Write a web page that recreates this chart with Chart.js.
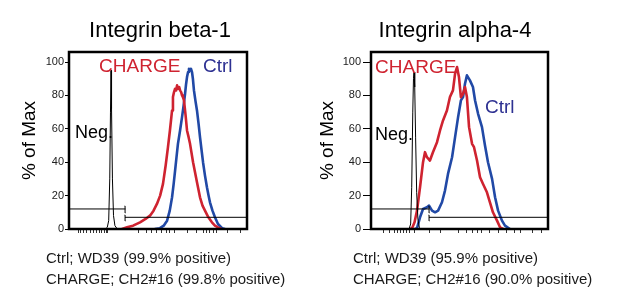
<!DOCTYPE html>
<html><head><meta charset="utf-8">
<script src="https://cdn.jsdelivr.net/npm/chart.js@4.4.1/dist/chart.umd.min.js"></script>
<style>
html,body{margin:0;padding:0;background:#fff;}
body{width:617px;height:292px;overflow:hidden;position:relative;font-family:"Liberation Sans",Arial,sans-serif;color:#111;}
canvas{position:absolute;top:0;}
.title{position:absolute;top:17px;width:220px;text-align:center;font-size:22px;line-height:26px;color:#000;white-space:nowrap;}
.cap{position:absolute;top:247px;font-size:15px;line-height:21px;color:#1a1a1a;white-space:nowrap;}
</style></head>
<body>
<canvas id="c1" width="308" height="292" style="left:0"></canvas>
<canvas id="c2" width="309" height="292" style="left:308px"></canvas>
<div class="title" style="left:50px">Integrin beta-1</div>
<div class="title" style="left:345px">Integrin alpha-4</div>
<div class="cap" style="left:46px">Ctrl; WD39 (99.9% positive)<br>CHARGE; CH2#16 (99.8% positive)</div>
<div class="cap" style="left:353px">Ctrl; WD39 (95.9% positive)<br>CHARGE; CH2#16 (90.0% positive)</div>
<script>
// ---------- data ----------
const yTicks = [0, 20, 40, 60, 80, 100];
const xTicks1 = [5.1, 6.7, 8.4, 10.1, 11.8, 13.5, 15.2, 16.9, 18.5, 19.7, 20.8, 21.9, 38.8, 43.8, 46.6, 49.4, 52.2, 54.5, 56.7, 59.0, 66.3, 71.9, 75.3, 77.5, 79.2, 80.9, 82.6, 89.3, 96.1];
const xTicks2 = [7.3, 10.2, 13.0, 14.7, 16.4, 18.6, 20.3, 22.0, 24.3, 32.8, 39.0, 49.7, 53.7, 57.1, 59.9, 62.7, 67.2, 72.3, 76.3, 80.8, 84.2, 91.0, 96.6];

// Panel 1: Integrin beta-1
const neg1X = [20.5, 21.5, 22.3, 22.9, 23.3, 23.6, 23.9, 24.4, 25.0, 25.8, 26.8, 27.8];
const neg1Y = [0, 1, 5, 30, 70, 95, 72, 30, 8, 2, 0.5, 0];
const charge1X = [29.8, 32.6, 36, 39.9, 43, 45.5, 47.5, 49.4, 51.2, 52.8, 54.3, 55.6, 56.7, 57.9, 58.4, 59.0, 59.6, 60.2, 60.7, 61.3, 61.9, 62.4, 63.0, 63.5, 64.0, 64.6, 65.5, 66.3, 67.2, 68.0, 69.7, 70.8, 71.9, 73.6, 75.0, 76.4, 78.3, 80.3, 82, 83.7, 85.5];
const charge1Y = [0, 1, 2, 4, 6, 8, 11, 15, 20, 27, 38, 49, 59, 71, 79, 82, 84, 83, 86, 84, 85, 83, 82, 80, 79, 77, 68, 59, 55, 51, 40, 34, 28, 19, 14, 11, 7, 4, 2, 1, 0];
const ctrl1X = [48.3, 51.1, 53.2, 55.1, 56.6, 57.9, 58.8, 59.6, 60.4, 61.2, 62.4, 63.5, 64.4, 65.2, 65.8, 66.3, 66.9, 67.4, 68.0, 68.5, 69.1, 69.6, 70.2, 71.0, 71.9, 72.8, 73.6, 74.5, 75.3, 76.4, 77.5, 78.4, 79.2, 80.6, 82.0, 83.7, 86.0, 87.5];
const ctrl1Y = [0, 0.5, 2, 5, 11, 19, 27, 35, 43, 51, 59, 67, 74, 81, 87, 91, 94, 96, 95, 96, 94, 90, 83, 77, 71, 63, 55, 47, 40, 32, 25, 20, 16, 11, 7, 3, 0.5, 0];
const gateSplit1 = 31.5;

// Panel 2: Integrin alpha-4
const neg2X = [21.5, 22.4, 23.0, 23.6, 24.0, 24.3, 24.7, 25.2, 25.8, 26.5, 27.3, 28.2];
const neg2Y = [0, 3, 25, 70, 90, 94, 85, 55, 22, 6, 1, 0];
const charge2X = [22.0, 23.2, 24.6, 26.0, 27.7, 29.4, 30.5, 31.6, 33.3, 35.0, 37.3, 39.0, 40.7, 42.9, 44.6, 46.3, 47.5, 48.6, 49.7, 50.8, 52.0, 53.1, 54.2, 55.4, 57.1, 58.2, 59.9, 61.6, 63.3, 65.5, 67.2, 68.9, 71.2, 72.9, 74.6];
const charge2Y = [0, 0.5, 4, 11, 25, 40, 46, 43, 41, 46, 52, 59, 65, 71, 79, 83, 93, 97, 91, 79, 81, 85, 79, 61, 51, 49, 41, 31, 27, 22, 16, 10, 5, 1, 0];
const ctrl2X = [24.9, 26.0, 27.7, 29.4, 31.6, 32.8, 34.5, 36.2, 37.9, 40.1, 41.8, 43.5, 45.8, 47.5, 49.2, 50.8, 52.0, 53.1, 54.2, 55.9, 57.6, 58.8, 60.5, 62.7, 64.4, 66.1, 68.4, 70.1, 71.8, 74.0, 75.7, 78.5];
const ctrl2Y = [0, 0.5, 7, 12, 13, 14, 11, 10, 11, 16, 23, 33, 43, 55, 67, 77, 79, 87, 92, 89, 85, 77, 69, 61, 50, 40, 30, 19, 11, 5, 2, 0];
const gateSplit2 = 32.8;

// gate levels (% of Max)
const gateNegLevel = 12;
const gatePosLevel = 7;
const gateNegTick = [9.6, 13.8];
const gatePosTick = [4.8, 8.4];

// ---------- styling ----------
const RED = '#cf2330';
const BLUE = '#2149a6';
const NAVY = '#2e3192';

function pts(xs, ys){ return xs.map((x,i)=>({x:x, y:ys[i]})); }

const framePlugin = {
  id:'frame',
  afterDatasetsDraw(chart){
    const {ctx, chartArea:a} = chart;
    ctx.save(); ctx.strokeStyle='#000'; ctx.lineWidth=2.5;
    ctx.strokeRect(a.left, a.top, a.right-a.left, a.bottom-a.top);
    ctx.restore();
  }
};
function textPlugin(items){
  return {
    id:'texts',
    afterDatasetsDraw(chart){
      const {ctx, scales:{x,y}} = chart;
      ctx.save();
      ctx.textBaseline='middle'; ctx.textAlign='left';
      items.forEach(it=>{
        ctx.font = it.font; ctx.fillStyle = it.color;
        ctx.fillText(it.text, x.getPixelForValue(it.x), y.getPixelForValue(it.y));
      });
      ctx.restore();
    }
  };
}

function makeChart(id, cfg){
  const line = (data, color, w) => ({data, borderColor:color, borderWidth:w, pointRadius:0, tension:0, fill:false, borderJoinStyle:'round', borderCapStyle:'round'});
  const datasets = [
    line(pts([0, cfg.split],[gateNegLevel, gateNegLevel]), '#000', 1),
    line(pts([cfg.split, cfg.split], gateNegTick), '#000', 1),
    line(pts([cfg.split, 100],[gatePosLevel, gatePosLevel]), '#000', 1),
    line(pts([cfg.split, cfg.split], gatePosTick), '#000', 1),
    line(pts(cfg.negX, cfg.negY), '#000', 1),
    line(pts(cfg.chX, cfg.chY), RED, 2.6),
    line(pts(cfg.ctX, cfg.ctY), BLUE, 2.6)
  ];
  return new Chart(document.getElementById(id), {
    type:'line',
    data:{datasets},
    plugins:[framePlugin, textPlugin(cfg.texts)],
    options:{
      responsive:false, animation:false, devicePixelRatio:1,
      layout:{padding:{left:0, right:cfg.padRight, top:52, bottom:0}},
      plugins:{legend:{display:false}, tooltip:{enabled:false}, title:{display:false}},
      scales:{
        x:{
          type:'linear', min:0, max:100,
          afterBuildTicks:(s)=>{ s.ticks = cfg.xTicks.map(v=>({value:v})); },
          afterFit:(s)=>{ s.height = 63; },
          ticks:{display:false, autoSkip:false},
          grid:{display:true, drawOnChartArea:false, drawTicks:true, tickLength:4, tickColor:'#333', tickWidth:1},
          border:{display:false}
        },
        y:{
          type:'linear', min:0, max:106,
          afterBuildTicks:(s)=>{ s.ticks = yTicks.map(v=>({value:v})); },
          afterFit:(s)=>{ s.width = cfg.yWidth; },
          ticks:{color:'#222', font:{family:'"Liberation Sans", Arial, sans-serif', size:11}, padding:cfg.tickPad},
          grid:{display:true, drawOnChartArea:false, drawTicks:true, tickLength:cfg.tickLen, tickColor:'#000', tickWidth:1},
          border:{display:false},
          title:{display:true, text:'% of Max', color:'#000', font:{family:'"Liberation Sans", Arial, sans-serif', size:19}, padding:{top:cfg.titlePad, bottom:0}}
        }
      }
    }
  });
}

const F = '"Liberation Sans", Arial, sans-serif';
makeChart('c1', {
  negX:neg1X, negY:neg1Y, chX:charge1X, chY:charge1Y, ctX:ctrl1X, ctY:ctrl1Y,
  split:gateSplit1, xTicks:xTicks1, padRight:61, yWidth:69, tickPad:1, tickLen:4, titlePad:18,
  texts:[
    {text:'CHARGE', x:16.9, y:97, color:RED, font:'19px '+F},
    {text:'Ctrl', x:75.3, y:97, color:NAVY, font:'19px '+F},
    {text:'Neg.', x:3.4, y:57.5, color:'#000', font:'18px '+F}
  ]
});
makeChart('c2', {
  negX:neg2X, negY:neg2Y, chX:charge2X, chY:charge2Y, ctX:ctrl2X, ctY:ctrl2Y,
  split:gateSplit2, xTicks:xTicks2, padRight:69, yWidth:63, tickPad:2, tickLen:8, titlePad:8,
  texts:[
    {text:'CHARGE', x:2.3, y:96.4, color:RED, font:'19px '+F},
    {text:'Ctrl', x:64.4, y:72.5, color:NAVY, font:'19px '+F},
    {text:'Neg.', x:2.3, y:56.3, color:'#000', font:'18px '+F}
  ]
});
</script>
</body></html>
